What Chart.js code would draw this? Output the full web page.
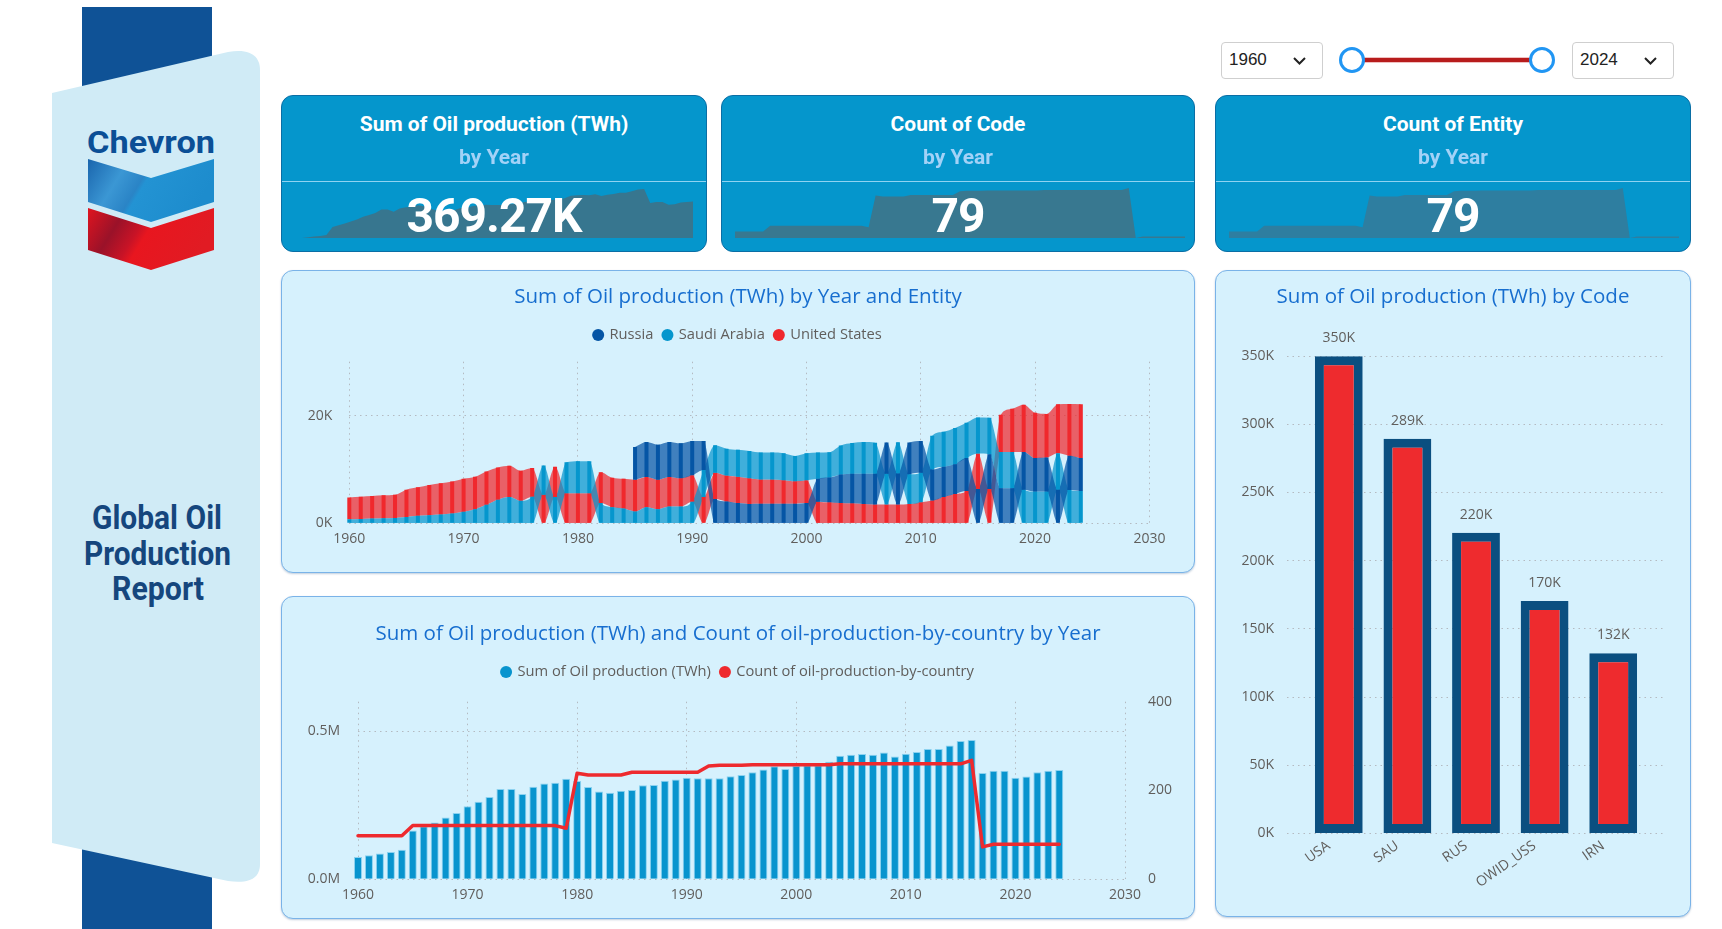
<!DOCTYPE html>
<html>
<head>
<meta charset="utf-8">
<title>Global Oil Production Report</title>
<script src="https://cdn.jsdelivr.net/npm/chart.js@4.4.1/dist/chart.umd.min.js"></script>
<style>
  html, body { margin: 0; padding: 0; background: #fff; }
  body { width: 1722px; height: 929px; position: relative; overflow: hidden; font-family: "Open Sans", sans-serif; }
  .kpi { position: absolute; box-sizing: border-box; background: #0596cc; border: 1px solid #0a6ea5; border-radius: 12px; overflow: hidden; }
  .kpi canvas { position: absolute; }
  .kpi .kt { position: absolute; left: 0; right: 0; top: 15px; text-align: center; font: 700 21px Roboto, sans-serif; line-height: 26px; color: #fff; }
  .kpi .ks { position: absolute; left: 0; right: 0; top: 48px; text-align: center; font: 700 21px Roboto, sans-serif; line-height: 26px; color: #a3d2f7; }
  .kpi .kl { position: absolute; left: 0; right: 0; top: 85px; height: 1px; background: #8fd3f2; }
  .kpi .kv { position: absolute; left: 0; right: 0; top: 90px; text-align: center; font: 700 48px Roboto, sans-serif; line-height: 60px; letter-spacing: -1px; color: #fff; }
  .card { position: absolute; box-sizing: border-box; background: #d6f1fd; border: 1px solid #7ab3e8; border-radius: 12px; box-shadow: 0 1px 2px rgba(0, 60, 120, 0.25); }
  .chartbox { position: absolute; }
  .dd { position: absolute; box-sizing: border-box; width: 102px; height: 37px; border: 1.5px solid #cfcfcf; border-radius: 4px; background: #fff; font: 17px "Liberation Sans", Arial, sans-serif; color: #222; }
  .dd span { position: absolute; left: 7px; top: 7px; }
  .dd svg { position: absolute; right: 16px; top: 14px; }
  .knob { position: absolute; box-sizing: border-box; width: 26px; height: 26px; border: 3px solid #2196f3; border-radius: 50%; background: #fff; }
</style>
</head>
<body>

<!-- left banner -->
<svg width="280" height="929" style="position:absolute;left:0;top:0">
  <defs>
    <linearGradient id="gBlue" x1="0" y1="0" x2="1" y2="0.3">
      <stop offset="0" stop-color="#1a65ad"/>
      <stop offset="0.3" stop-color="#3b97d4"/>
      <stop offset="0.48" stop-color="#2a84c6"/>
      <stop offset="0.52" stop-color="#2393d3"/>
      <stop offset="1" stop-color="#1d8ccd"/>
    </linearGradient>
    <linearGradient id="gRed" x1="0" y1="0" x2="1" y2="0.3">
      <stop offset="0" stop-color="#e0141f"/>
      <stop offset="0.28" stop-color="#9a1229"/>
      <stop offset="0.46" stop-color="#c81326"/>
      <stop offset="0.54" stop-color="#e8161f"/>
      <stop offset="1" stop-color="#e11b23"/>
    </linearGradient>
  </defs>
  <rect x="82" y="7" width="130" height="930" fill="#0f5296"/>
  <path d="M52,93 L228,52 C250,48 260,56 260,70 L260,864 C260,878 250,884 228,881 L52,843 Z" fill="#d0ebf6"/>
  <text x="87" y="153" textLength="128" lengthAdjust="spacingAndGlyphs" font-family="Roboto" font-weight="700" font-size="31" fill="#0b4f96">Chevron</text>
  <polygon points="88,159 151,178 214,159 214,202 151,222 88,202" fill="url(#gBlue)"/>
  <polygon points="88,208 151,228 214,208 214,250 151,270 88,250" fill="url(#gRed)"/>
  <text x="92" y="529" textLength="130" lengthAdjust="spacingAndGlyphs" font-family="Roboto" font-weight="700" font-size="34" fill="#15467d">Global Oil</text>
  <text x="84" y="565" textLength="147" lengthAdjust="spacingAndGlyphs" font-family="Roboto" font-weight="700" font-size="34" fill="#15467d">Production</text>
  <text x="112" y="600" textLength="92" lengthAdjust="spacingAndGlyphs" font-family="Roboto" font-weight="700" font-size="34" fill="#15467d">Report</text>
</svg>

<!-- year slicer -->
<div class="dd" style="left:1221px;top:42px"><span>1960</span><svg width="13" height="8"><polyline points="1,1 6.5,6.5 12,1" fill="none" stroke="#222" stroke-width="2"/></svg></div>
<div style="position:absolute;left:1364px;top:58px;width:166px;height:4px;background:#b71c1c;box-shadow:0 0 0 1px rgba(230,150,150,0.6)"></div>
<div class="knob" style="left:1339px;top:47px"></div>
<div class="knob" style="left:1529px;top:47px"></div>
<div class="dd" style="left:1572px;top:42px"><span>2024</span><svg width="13" height="8"><polyline points="1,1 6.5,6.5 12,1" fill="none" stroke="#222" stroke-width="2"/></svg></div>

<!-- KPI cards -->
<div class="kpi" style="left:281px;top:95px;width:426px;height:157px">
  <canvas id="spark1" width="391" height="49" style="left:20px;top:93px"></canvas>
  <div class="kt">Sum of Oil production (TWh)</div>
  <div class="ks">by Year</div>
  <div class="kl"></div>
  <div class="kv">369.27K</div>
</div>
<div class="kpi" style="left:721px;top:95px;width:474px;height:157px">
  <canvas id="spark2" width="450" height="50" style="left:13px;top:92px"></canvas>
  <div class="kt">Count of Code</div>
  <div class="ks">by Year</div>
  <div class="kl"></div>
  <div class="kv">79</div>
</div>
<div class="kpi" style="left:1215px;top:95px;width:476px;height:157px">
  <canvas id="spark3" width="450" height="50" style="left:13px;top:92px"></canvas>
  <div class="kt">Count of Entity</div>
  <div class="ks">by Year</div>
  <div class="kl"></div>
  <div class="kv">79</div>
</div>

<!-- chart cards -->
<div class="card" style="left:281px;top:270px;width:914px;height:303px"></div>
<div class="chartbox" style="left:281px;top:270px"><canvas id="ribbonChart" width="914" height="303"></canvas></div>

<div class="card" style="left:281px;top:596px;width:914px;height:323px"></div>
<div class="chartbox" style="left:281px;top:596px"><canvas id="comboChart" width="914" height="323"></canvas></div>

<div class="card" style="left:1215px;top:270px;width:476px;height:647px"></div>
<div class="chartbox" style="left:1215px;top:270px"><canvas id="codeChart" width="476" height="647"></canvas></div>

<script>
// ---- data ----
const years = [
    1960, 1961, 1962, 1963, 1964, 1965, 1966, 1967, 1968, 1969,
    1970, 1971, 1972, 1973, 1974, 1975, 1976, 1977, 1978, 1979,
    1980, 1981, 1982, 1983, 1984, 1985, 1986, 1987, 1988, 1989,
    1990, 1991, 1992, 1993, 1994, 1995, 1996, 1997, 1998, 1999,
    2000, 2001, 2002, 2003, 2004, 2005, 2006, 2007, 2008, 2009,
    2010, 2011, 2012, 2013, 2014, 2015, 2016, 2017, 2018, 2019,
    2020, 2021, 2022, 2023, 2024,
];

const entities = ['Russia', 'Saudi Arabia', 'United States'];

// Oil production (TWh) per entity, one value per year
const russiaProd = [
    null, null, null, null, null, null, null, null, null, null,
    null, null, null, null, null, null, null, null, null, null,
    null, null, null, null, null, 6060, 6500, 6500, 6500, 6500,
    6400, 5400, 4500, 4060, 3750, 3600, 3630, 3630, 3630, 3630,
    3750, 4250, 4600, 5300, 5500, 5600, 5700, 5800, 5750, 5900,
    5900, 5750, 5600, 5500, 6100, 6350, 6450, 6500, 6500, 7000,
    6200, 6300, 6250, 6350, 6100,
];
const saudiProd = [
    750, 810, 880, 940, 1000, 1190, 1380, 1500, 1630, 1810,
    2130, 2630, 3440, 4380, 4880, 4190, 4940, 5450, 4900, 5750,
    5940, 5900, 3750, 3000, 2750, 2200, 3000, 2600, 3100, 3100,
    4000, 5000, 5100, 5000, 5000, 5060, 5000, 5000, 5000, 4690,
    5000, 4900, 4700, 5400, 5700, 5900, 5750, 5700, 5800, 5500,
    5500, 6250, 6500, 6750, 6560, 6700, 6800, 6750, 6750, 6250,
    5900, 5900, 6750, 6200, 6000,
];
const usProd = [
    4060, 4130, 4190, 4250, 4310, 5060, 5310, 5630, 5810, 5940,
    6130, 6000, 6190, 6000, 5810, 5560, 5310, 5300, 5600, 5600,
    5600, 5600, 5750, 5450, 5500, 5900, 5600, 5500, 5500, 5250,
    4900, 4900, 4900, 4800, 4900, 4750, 4500, 4500, 4380, 4190,
    4250, 4000, 3900, 3750, 3700, 3600, 3500, 3500, 3500, 3600,
    3900, 4250, 4900, 5450, 6000, 6600, 6350, 6900, 8000, 8750,
    8400, 8100, 9100, 9600, 10000,
];

// Sum of oil production (TWh) over all rows, per year
const sumProd = [
    75500, 81000, 87000, 92000, 100000, 165000, 179000, 192000, 209000, 224000,
    247000, 262000, 278000, 305000, 305000, 288000, 313000, 324000, 326000, 340000,
    332000, 312000, 297000, 292000, 299000, 302000, 318000, 319000, 333000, 337000,
    343000, 341000, 341000, 341000, 348000, 352000, 362000, 371000, 382000, 373000,
    384000, 385000, 385000, 397000, 417000, 421000, 423000, 421000, 428000, 415000,
    424000, 430000, 440000, 440000, 452000, 467000, 471000, 359000, 367000, 367000,
    343000, 347000, 362000, 367000, 369270,
];
// Count of rows (oil-production-by-country / Code / Entity), per year
const countRows = [
    98, 98, 98, 98, 98, 121, 121, 121, 121, 121,
    121, 121, 121, 121, 121, 121, 121, 121, 121, 115,
    239, 235, 235, 235, 235, 241, 241, 241, 241, 241,
    241, 241, 255, 257, 257, 257, 258, 258, 258, 258,
    258, 258, 258, 258, 260, 260, 260, 260, 260, 260,
    260, 260, 260, 260, 260, 260, 268, 73, 79, 79,
    79, 79, 79, 79, 79,
];

const codes = ['USA', 'SAU', 'RUS', 'OWID_USS', 'IRN'];
const codeProd = [349800, 289300, 220400, 170400, 132200];

// axis tick values
const ribbonTicks = [0, 20000];
const comboLeftTicks = [0, 500000];

// ---- styles ----
Chart.defaults.font.family = '"Open Sans", sans-serif';
Chart.defaults.color = '#605e5c';

const tickFont = { family: '"Open Sans", sans-serif', size: 14 };
const legendFont = { family: '"Open Sans", sans-serif', size: 14.7 };
const titleFont = { family: '"Open Sans", sans-serif', size: 20.5, weight: 'normal' };
const titleColor = '#176ecf';
const gridColor = 'rgba(140, 120, 120, 0.45)';
const gridDash = [1.5, 4];
const barColors = ['#0555a5', '#0596cd', '#f0282d'];
const ribbonColors = ['rgba(5, 85, 165, 0.72)', 'rgba(5, 150, 205, 0.72)', 'rgba(240, 40, 45, 0.72)'];

// push the plot area a bit further below the legend
const legendGap = (extra) => ({
    id: 'legendGap',
    beforeInit(chart) {
        const fit = chart.legend.fit;
        chart.legend.fit = function () {
            fit.call(this);
            this.height += extra;
        };
    },
});

// empty right-hand axis used as a spacer so title and legend stay centred on the card
const spacerAxis = (width) => ({
    position: 'right',
    display: true,
    min: 0,
    max: 1,
    ticks: { display: false },
    grid: { display: false },
    border: { display: false },
    afterFit: (s) => { s.width = width; },
});

const baseOptions = {
    responsive: false,
    animation: false,
    events: [],
};

// ---- KPI sparklines ----
const sparkline = (id, values, color) => {
    new Chart(document.getElementById(id), {
        type: 'line',
        data: {
            datasets: [{
                data: years.map((yr, i) => ({ x: yr, y: values[i] })),
                fill: 'start',
                backgroundColor: color,
                borderWidth: 0,
                pointRadius: 0,
                tension: 0,
            }],
        },
        options: {
            ...baseOptions,
            layout: { padding: 0 },
            plugins: { legend: { display: false }, tooltip: { enabled: false } },
            scales: {
                x: { type: 'linear', display: false, min: years[0], max: years[years.length - 1] },
                y: { display: false, min: Math.min(...values), max: Math.max(...values) },
            },
        },
    });
};
sparkline('spark1', sumProd, '#37768f');
sparkline('spark2', countRows, '#387890');
sparkline('spark3', countRows, '#2e7ea0');

// ---- ribbon chart: rank-ordered stacks per year ----
const series = [russiaProd, saudiProd, usProd];
const bottoms = series.map(() => []);
years.forEach((yr, i) => {
    const present = series
        .map((s, k) => ({ k, v: s[i] }))
        .filter((d) => d.v != null)
        .sort((a, b) => a.v - b.v);
    let base = 0;
    present.forEach((d) => {
        bottoms[d.k][i] = base;
        base += d.v;
    });
});

const ribbonDatasets = [];
series.forEach((s, k) => {
    const idx = years.map((yr, i) => i).filter((i) => s[i] != null);
    ribbonDatasets.push({
        type: 'bar',
        label: entities[k],
        data: idx.map((i) => ({ x: years[i], y: [bottoms[k][i], bottoms[k][i] + s[i]] })),
        backgroundColor: barColors[k],
        grouped: false,
        barPercentage: 0.35,
        categoryPercentage: 1,
        order: 0,
        clip: 8,
    });
});
series.forEach((s, k) => {
    const idx = years.map((yr, i) => i).filter((i) => s[i] != null);
    ribbonDatasets.push({
        type: 'line',
        label: entities[k] + ' base',
        data: idx.map((i) => ({ x: years[i], y: bottoms[k][i] })),
        borderWidth: 0,
        pointRadius: 0,
        fill: false,
        cubicInterpolationMode: 'monotone',
        order: 1,
    });
    ribbonDatasets.push({
        type: 'line',
        label: entities[k] + ' ribbon',
        data: idx.map((i) => ({ x: years[i], y: bottoms[k][i] + s[i] })),
        borderWidth: 0,
        pointRadius: 0,
        fill: '-1',
        backgroundColor: ribbonColors[k],
        cubicInterpolationMode: 'monotone',
        order: 1,
    });
});

const legendLabels = (names, colors) => ({
    color: '#605e5c',
    font: legendFont,
    usePointStyle: true,
    boxWidth: 8,
    boxHeight: 8.5,
    padding: 10,
    generateLabels: () => names.map((name, i) => ({
        text: name,
        fillStyle: colors[i],
        strokeStyle: colors[i],
        fontColor: '#605e5c',
        lineWidth: 0,
        pointStyle: 'circle',
        hidden: false,
        datasetIndex: i,
    })),
});

new Chart(document.getElementById('ribbonChart'), {
    type: 'line',
    data: { datasets: ribbonDatasets },
    options: {
        ...baseOptions,
        layout: { padding: 0 },
        plugins: {
            title: {
                display: true,
                text: 'Sum of Oil production (TWh) by Year and Entity',
                color: titleColor,
                font: titleFont,
                padding: { top: 15.1, bottom: 8.0 },
            },
            legend: { display: true, labels: legendLabels(entities, barColors) },
            tooltip: { enabled: false },
        },
        scales: {
            x: {
                type: 'linear',
                min: 1960,
                max: 2030,
                offset: false,
                ticks: { stepSize: 10, padding: 7, font: tickFont, color: '#605e5c', callback: (v) => String(v) },
                grid: { color: gridColor, drawTicks: false, offset: false },
                border: { display: false, dash: gridDash },
                afterFit: (s) => { s.height = 49.7; },
            },
            y: {
                min: 0,
                max: 30000,
                afterBuildTicks: (s) => { s.ticks = ribbonTicks.map((value) => ({ value })); },
                ticks: { padding: 17, font: tickFont, color: '#605e5c', callback: (v) => v / 1000 + 'K' },
                grid: { color: gridColor, drawTicks: false },
                border: { display: false, dash: gridDash },
                afterFit: (s) => { s.width = 68.3; },
            },
            spacer: spacerAxis(45.6),
        },
    },
    plugins: [legendGap(9.3)],
});

// ---- combo chart ----
new Chart(document.getElementById('comboChart'), {
    type: 'line',
    data: {
        datasets: [
            {
                type: 'line',
                label: 'Count of oil-production-by-country',
                data: years.map((yr, i) => ({ x: yr, y: countRows[i] })),
                yAxisID: 'y1',
                borderColor: '#ee2a2e',
                backgroundColor: '#ee2a2e',
                borderWidth: 3.5,
                borderJoinStyle: 'round',
                borderCapStyle: 'round',
                pointRadius: 0,
                tension: 0,
                order: 0,
                clip: 8,
            },
            {
                type: 'bar',
                label: 'Sum of Oil production (TWh)',
                data: years.map((yr, i) => ({ x: yr, y: sumProd[i] })),
                yAxisID: 'y',
                backgroundColor: '#0894ce',
                borderColor: 'rgba(140, 210, 240, 1)',
                borderWidth: { top: 1, left: 1, right: 1, bottom: 0 },
                barPercentage: 0.73,
                categoryPercentage: 1,
                order: 1,
                clip: 8,
            },
        ],
    },
    options: {
        ...baseOptions,
        layout: { padding: 0 },
        plugins: {
            title: {
                display: true,
                text: 'Sum of Oil production (TWh) and Count of oil-production-by-country by Year',
                color: titleColor,
                font: titleFont,
                padding: { top: 25.8, bottom: 8.3 },
            },
            legend: {
                display: true,
                labels: legendLabels(['Sum of Oil production (TWh)', 'Count of oil-production-by-country'], ['#0894ce', '#ee2a2e']),
            },
            tooltip: { enabled: false },
        },
        scales: {
            x: {
                type: 'linear',
                min: 1960,
                max: 2030,
                offset: false,
                ticks: { stepSize: 10, padding: 7, font: tickFont, color: '#605e5c', callback: (v) => String(v) },
                grid: { color: gridColor, drawTicks: false, offset: false },
                border: { display: false, dash: gridDash },
                afterFit: (s) => { s.height = 39.7; },
            },
            y: {
                position: 'left',
                min: 0,
                max: 600000,
                afterBuildTicks: (s) => { s.ticks = comboLeftTicks.map((value) => ({ value })); },
                ticks: { padding: 18, font: tickFont, color: '#605e5c', callback: (v) => (v / 1e6).toFixed(1) + 'M' },
                grid: { color: gridColor, drawTicks: false },
                border: { display: false, dash: gridDash },
                afterFit: (s) => { s.width = 77; },
            },
            y1: {
                position: 'right',
                min: 0,
                max: 400,
                ticks: { stepSize: 200, padding: 15, font: tickFont, color: '#605e5c', callback: (v) => String(v) },
                grid: { display: false },
                border: { display: false },
                afterFit: (s) => { s.width = 70; },
            },
        },
    },
    plugins: [legendGap(12.3)],
});

// ---- bar chart by code ----
const valueLabels = {
    id: 'valueLabels',
    afterDatasetsDraw(chart) {
        const { ctx } = chart;
        const meta = chart.getDatasetMeta(0);
        ctx.save();
        ctx.font = '14px "Open Sans", sans-serif';
        ctx.fillStyle = '#605e5c';
        ctx.textAlign = 'center';
        ctx.textBaseline = 'middle';
        meta.data.forEach((bar, i) => {
            ctx.fillText(Math.round(codeProd[i] / 1000) + 'K', bar.x, bar.y - 18);
        });
        ctx.restore();
    },
};

new Chart(document.getElementById('codeChart'), {
    type: 'bar',
    data: {
        datasets: [{
            label: 'Sum of Oil production (TWh)',
            data: codes.map((c, i) => ({ x: i, y: codeProd[i] })),
            backgroundColor: '#ee2b2e',
            borderColor: '#0b4f80',
            borderWidth: 9,
            borderSkipped: false,
            barPercentage: 0.697,
            categoryPercentage: 1,
        }],
    },
    options: {
        ...baseOptions,
        layout: { padding: 0 },
        plugins: {
            title: {
                display: true,
                text: 'Sum of Oil production (TWh) by Code',
                color: titleColor,
                font: titleFont,
                padding: { top: 15.1, bottom: 46.3 },
            },
            legend: { display: false },
            tooltip: { enabled: false },
        },
        scales: {
            x: {
                type: 'linear',
                min: -0.755,
                max: 4.755,
                offset: false,
                ticks: {
                    stepSize: 1,
                    includeBounds: false,
                    autoSkip: false,
                    minRotation: 35,
                    maxRotation: 35,
                    padding: -4,
                    labelOffset: -10,
                    font: tickFont,
                    color: '#605e5c',
                    callback: (v) => codes[v] ?? '',
                },
                grid: { display: false, offset: false },
                border: { display: false },
                afterFit: (s) => { s.height = 83.5; },
            },
            y: {
                min: 0,
                max: 350000,
                ticks: { stepSize: 50000, padding: 13, font: tickFont, color: '#605e5c', callback: (v) => v / 1000 + 'K' },
                grid: { color: gridColor, drawTicks: false },
                border: { display: false, dash: gridDash },
                afterFit: (s) => { s.width = 72; },
            },
            spacer: spacerAxis(26),
        },
    },
    plugins: [valueLabels],
});
</script>
</body>
</html>
